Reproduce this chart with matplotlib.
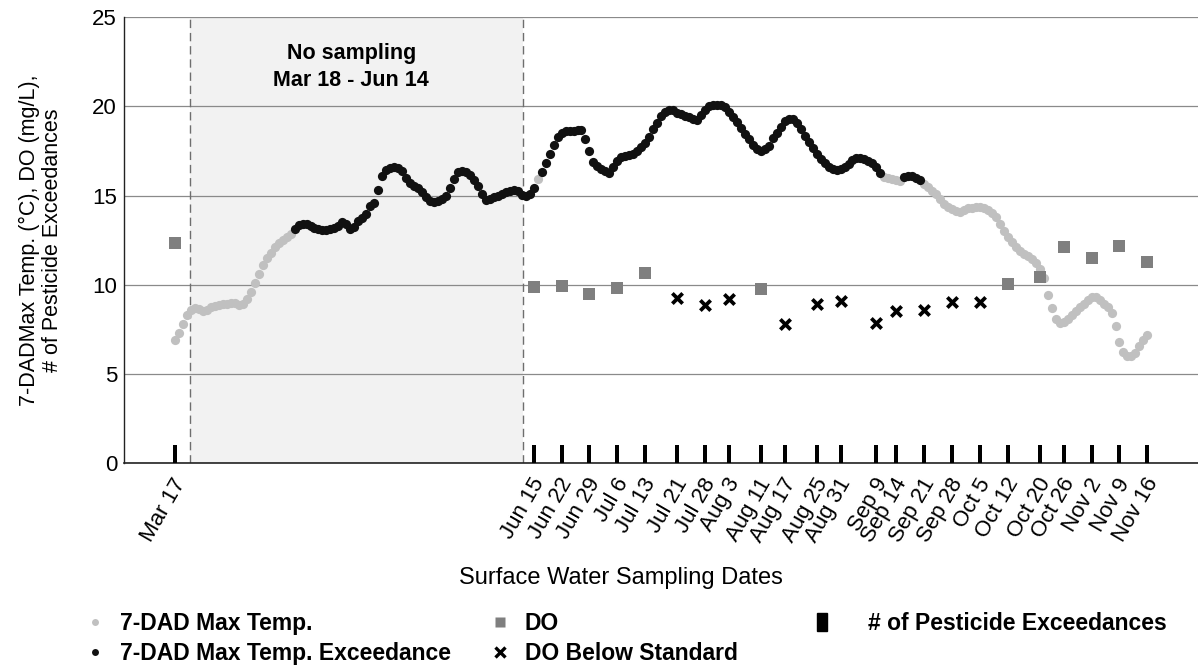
import numpy as np
import pandas as pd
import matplotlib
matplotlib.use("Agg")
import matplotlib.pyplot as plt
import matplotlib.patches as mpatches
from matplotlib.lines import Line2D
from matplotlib.transforms import ScaledTranslation

plt.rcParams['font.family'] = ['Liberation Sans', 'DejaVu Sans']

# ---------------- data ----------------
temp_start = "2021-03-17"
temp_values = [
    6.9, 7.3, 7.8, 8.3, 8.6, 8.7, 8.65, 8.55, 8.6, 8.75,
    8.8, 8.85, 8.9, 8.95, 9.0, 9.0, 8.85, 8.95, 9.2, 9.6,
    10.1, 10.6, 11.1, 11.5, 11.8, 12.1, 12.35, 12.5, 12.7, 12.85,
    13.1, 13.35, 13.4, 13.4, 13.3, 13.2, 13.1, 13.05, 13.05, 13.1,
    13.2, 13.3, 13.5, 13.4, 13.15, 13.25, 13.55, 13.75, 13.95, 14.4,
    14.6, 15.3, 16.1, 16.45, 16.55, 16.6, 16.55, 16.35, 16.0, 15.7,
    15.55, 15.4, 15.2, 14.9, 14.7, 14.65, 14.7, 14.8, 15.0, 15.4,
    15.9, 16.3, 16.35, 16.3, 16.15, 15.85, 15.55, 15.1, 14.75, 14.8,
    14.9, 15.0, 15.1, 15.2, 15.25, 15.3, 15.25, 15.05, 14.95, 15.1,
    15.4, 15.95, 16.3, 16.8, 17.3, 17.85, 18.3, 18.5, 18.6, 18.6,
    18.6, 18.65, 18.65, 18.15, 17.5, 16.9, 16.65, 16.5, 16.35, 16.25,
    16.6, 16.95, 17.15, 17.2, 17.25, 17.35, 17.5, 17.7, 17.95, 18.3,
    18.7, 19.05, 19.45, 19.7, 19.8, 19.8, 19.65, 19.55, 19.45, 19.38,
    19.3, 19.25, 19.5, 19.8, 20.0, 20.05, 20.05, 20.05, 19.95, 19.7,
    19.4, 19.1, 18.8, 18.45, 18.15, 17.85, 17.6, 17.5, 17.6, 17.8,
    18.2, 18.5, 18.85, 19.15, 19.3, 19.3, 19.05, 18.7, 18.35, 18.0,
    17.65, 17.35, 17.05, 16.8, 16.6, 16.5, 16.45, 16.5, 16.6, 16.75,
    17.0, 17.1, 17.1, 17.05, 16.95, 16.8, 16.6, 16.25, 16.05, 16.0,
    15.95, 15.85, 15.8, 16.05, 16.1, 16.1, 16.0, 15.85, 15.65, 15.45,
    15.25, 15.1, 14.8, 14.55, 14.35, 14.25, 14.15, 14.1, 14.2, 14.3,
    14.3, 14.35, 14.35, 14.3, 14.2, 14.0, 13.8, 13.4, 13.0, 12.7,
    12.4, 12.1, 11.9, 11.75, 11.6, 11.45, 11.2, 10.9, 10.4, 9.4,
    8.7, 8.1, 7.85, 7.9, 8.1, 8.3, 8.55, 8.75, 8.95, 9.15,
    9.3, 9.3, 9.15, 8.95, 8.75, 8.4, 7.7, 6.8, 6.25, 6.0,
    6.0, 6.2, 6.55, 6.9, 7.2,
]
temp_exceed_periods = [("2021-04-16", "2021-06-15"),
                       ("2021-06-17", "2021-09-10"),
                       ("2021-09-16", "2021-09-20")]

sample_dates = ["2021-03-17", "2021-06-15", "2021-06-22", "2021-06-29", "2021-07-06",
                "2021-07-13", "2021-07-21", "2021-07-28", "2021-08-03", "2021-08-11",
                "2021-08-17", "2021-08-25", "2021-08-31", "2021-09-09", "2021-09-14",
                "2021-09-21", "2021-09-28", "2021-10-05", "2021-10-12", "2021-10-20",
                "2021-10-26", "2021-11-02", "2021-11-09", "2021-11-16"]
sample_labels = ["Mar 17", "Jun 15", "Jun 22", "Jun 29", "Jul 6", "Jul 13", "Jul 21",
                 "Jul 28", "Aug 3", "Aug 11", "Aug 17", "Aug 25", "Aug 31", "Sep 9",
                 "Sep 14", "Sep 21", "Sep 28", "Oct 5", "Oct 12", "Oct 20", "Oct 26",
                 "Nov 2", "Nov 9", "Nov 16"]
do_values = [12.35, 9.9, 9.95, 9.5, 9.8, 10.65, 9.25, 8.85, 9.2, 9.75,
             7.8, 8.9, 9.1, 7.85, 8.55, 8.6, 9.05, 9.05, 10.05, 10.45,
             12.1, 11.5, 12.2, 11.3]
do_below_standard = [False, False, False, False, False, False, True, True, True, False,
                     True, True, True, True, True, True, True, True, False, False,
                     False, False, False, False]
pesticide_exceedances = [1, 1, 1, 1, 1, 1, 1, 1, 1, 1, 1, 1,
                         1, 1, 1, 1, 1, 1, 1, 1, 1, 1, 1, 1]
no_sampling_text = "No sampling\nMar 18 - Jun 14"

# ---------------- frame ----------------
temp_dates = pd.date_range(temp_start, periods=len(temp_values), freq="D")
temp = pd.Series(temp_values, index=temp_dates)
exceed = pd.Series(False, index=temp_dates)
for a, b in temp_exceed_periods:
    exceed[a:b] = True

sdates = pd.to_datetime(sample_dates)
do_arr = np.array(do_values)
below = np.array(do_below_standard)

W, H, DPI = 1198, 667, 100
fig = plt.figure(figsize=(W / DPI, H / DPI), dpi=DPI)
L, R, T, B = 124, 1198, 17, 463.3
ax = fig.add_axes([L / W, 1 - B / H, (R - L) / W, (B - T) / H])

t0 = pd.Timestamp(temp_start)
ax.set_xlim(t0 - pd.Timedelta(days=12.8), t0 + pd.Timedelta(days=256.7))
ax.set_ylim(0, 25)

# shaded no-sampling period
s0 = t0 + pd.Timedelta(days=3.8)
s1 = t0 + pd.Timedelta(days=87.3)
ax.axvspan(s0, s1, color="#f2f2f2", zorder=0.2, lw=0)
for xv in (s0, s1):
    ax.axvline(xv, color="#6e6e6e", lw=1.0, dashes=(6, 3.5), zorder=1)

# grid
ax.set_yticks([0, 5, 10, 15, 20, 25])
ax.set_axisbelow(True)
ax.yaxis.grid(True, color="#8a8a8a", lw=0.9)
ax.xaxis.grid(False)
for side in ("top", "right"):
    ax.spines[side].set_visible(False)
ax.spines["left"].set_color("#222222")
ax.spines["bottom"].set_color("#222222")
ax.spines["left"].set_linewidth(1.0)
ax.spines["bottom"].set_linewidth(1.2)

# temperature
ax.scatter(temp.index[~exceed.values], temp.values[~exceed.values], s=44,
           color="#c0c0c0", lw=0, zorder=3)
ax.scatter(temp.index[exceed.values], temp.values[exceed.values], s=44,
           color="#111111", lw=0, zorder=3)

# pesticide bars
ax.bar(sdates, pesticide_exceedances, width=1.0, color="black", zorder=4)

# DO
ax.scatter(sdates[~below], do_arr[~below], marker="s", s=70, color="#7f7f7f",
           lw=0, zorder=5)
ax.scatter(sdates[below], do_arr[below], marker="x", s=55, color="black",
           lw=2.7, zorder=5)

# annotation
ax.text(t0 + pd.Timedelta(days=44.2), 22.2, no_sampling_text, ha="center",
        va="center", fontsize=15.5, fontweight="bold", linespacing=1.4)

# ticks
ax.tick_params(axis="both", length=0, labelsize=16)
ax.tick_params(axis="y", pad=5)
ax.tick_params(axis="x", pad=8)
ax.set_xticks(sdates)
ax.set_xticklabels(sample_labels, rotation=60, ha="right", va="top",
                   rotation_mode="anchor")
off = ScaledTranslation(-3 / DPI, 0, fig.dpi_scale_trans)
for lab in ax.get_xticklabels():
    lab.set_transform(lab.get_transform() + off)

ax.set_ylabel("7-DADMax Temp. (°C), DO (mg/L),\n# of Pesticide Exceedances",
              fontsize=15.5, linespacing=1.1)
ax.yaxis.set_label_coords(-0.057, 0.5)
ax.set_xlabel("Surface Water Sampling Dates", fontsize=17)
ax.xaxis.set_label_coords((621 - L) / (R - L), (B - 578) / (B - T))
ax.xaxis.label.set_va("center")

# legends
fs = 16.5
fpx = fs * DPI / 72
prop = {"size": fs, "weight": "bold"}
leg_top = 1 - 612 / H


def add_leg(handles, labels, marker_x, text_x, hl):
    x0 = marker_x - 0.5 * hl * fpx
    pad = (text_x - x0 - hl * fpx) / fpx
    lg = fig.legend(handles, labels, loc="upper left",
                    bbox_to_anchor=(x0 / W, leg_top), frameon=False,
                    prop=prop, handlelength=hl, handletextpad=pad,
                    borderpad=0, borderaxespad=0, labelspacing=0.3,
                    handleheight=0.8)
    return lg


h_t = Line2D([], [], ls="", marker="o", ms=5, color="#c0c0c0", mec="none")
h_te = Line2D([], [], ls="", marker="o", ms=5, color="#111111", mec="none")
h_do = Line2D([], [], ls="", marker="s", ms=6.5, color="#7f7f7f", mec="none")
h_db = Line2D([], [], ls="", marker="x", ms=6.5, color="black", mew=2.4)
h_p = mpatches.Patch(color="black")

add_leg([h_t, h_te], ["7-DAD Max Temp.", "7-DAD Max Temp. Exceedance"], 95, 120, 1.0)
add_leg([h_do, h_db], ["DO", "DO Below Standard"], 500, 525, 1.0)
add_leg([h_p], ["# of Pesticide Exceedances"], 822, 868, 0.4)

fig.savefig("out.png", dpi=DPI)
